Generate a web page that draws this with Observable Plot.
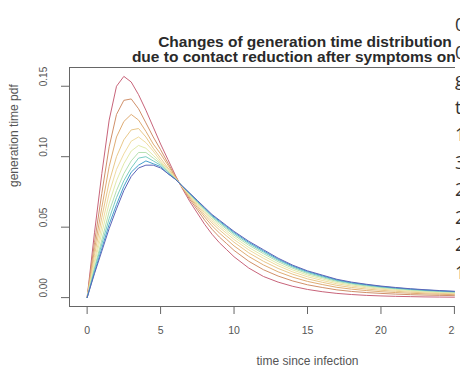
<!DOCTYPE html>
<html><head><meta charset="utf-8">
<script src="https://cdn.jsdelivr.net/npm/d3@7"></script>
<script src="https://cdn.jsdelivr.net/npm/@observablehq/plot@0.6"></script>
<style>
html,body{margin:0;padding:0;width:460px;height:375px;overflow:hidden;background:#fff;}
#wrap{position:relative;width:460px;height:375px;overflow:hidden;}
#chart{position:absolute;left:0;top:0;width:600px;height:375px;}
#chart svg{max-width:none !important;width:600px !important;height:375px !important;}
#title{position:absolute;left:0;width:610px;top:35px;text-align:center;font:bold 15.5px "Liberation Sans",Arial,sans-serif;color:#2a2a2a;line-height:14.5px;white-space:nowrap;}
#side{position:absolute;left:455px;top:0;width:40px;height:375px;padding-top:11px;box-sizing:border-box;background:#fff;font:18px "Open Sans",sans-serif;color:#333;line-height:27.5px;}
</style>
</head><body>
<div id="wrap">
<div id="chart"></div>
<div id="title">Changes of generation time distribution<br>due to contact reduction after symptoms onset</div>
<div id="side"></div>
</div>
<script>
const times = [0,0.5,1,1.5,2,2.5,3,3.5,4,4.5,5,5.5,6,6.5,7,7.5,8,8.5,9,9.5,10,11,12,13,14,15,16,17,18,19,20,21,22,23,24,25,26,27,28,29,30];
const s1 = [0,.046,.088,.126,.150,.157,.153,.144,.133,.121,.109,.098,.087,.077,.068,.060,.052,.045,.039,.034,.029,.021,.015,.011,.008,.0058,.0042,.003,.0022,.0016,.0012,.0009,.0007,.0005,.0004,.0003,.0002,.00015,.0001,.0001,.0001];
const s2 = [0,.039,.074,.107,.130,.140,.141,.134,.124,.114,.105,.0955,.0862,.0775,.0695,.0623,.055,.0485,.043,.0383,.0335,.0258,.0198,.0153,.0118,.0091,.0072,.0055,.0044,.0036,.003,.0025,.0021,.0018,.0016,.0014,.0012,.0010,.0009,.0008,.0007];
const s3 = [0,.034,.064,.093,.114,.125,.130,.126,.118,.109,.102,.094,.0857,.0779,.0706,.0639,.0572,.051,.0459,.0413,.0367,.0292,.0232,.0183,.0145,.0115,.0093,.0073,.006,.005,.0042,.0036,.0031,.0027,.0024,.0021,.0018,.0016,.0014,.0013,.0012];
const s4 = [0,.030,.057,.082,.100,.112,.119,.120,.114,.106,.099,.092,.0853,.0781,.0714,.0651,.0588,.053,.0481,.0437,.0393,.0318,.0258,.0207,.0166,.0133,.0109,.0087,.0072,.0061,.0052,.0045,.0039,.0034,.003,.0027,.0024,.0021,.0019,.0017,.0015];
const s5 = [0,.026,.051,.074,.091,.102,.111,.114,.110,.104,.097,.091,.085,.0784,.0721,.0661,.0602,.0545,.0499,.0456,.0412,.0339,.0279,.0226,.0182,.0148,.0122,.0098,.0082,.007,.006,.0052,.0045,.004,.0035,.0032,.0028,.0025,.0022,.002,.0018];
const s6 = [0,.024,.046,.067,.083,.095,.104,.108,.106,.101,.096,.090,.0847,.0785,.0726,.0669,.0612,.0558,.0513,.0471,.0429,.0356,.0296,.0241,.0196,.016,.0133,.0107,.009,.0077,.0066,.0058,.005,.0044,.0039,.0035,.0031,.0028,.0025,.0022,.002];
const s7 = [0,.021,.041,.061,.076,.088,.097,.103,.103,.099,.095,.0895,.0845,.0787,.0731,.0677,.0622,.0569,.0526,.0485,.0443,.0372,.0312,.0255,.0208,.017,.0142,.0115,.0097,.0083,.0072,.0063,.0055,.0048,.0043,.0039,.0034,.0031,.0027,.0025,.0022];
const s8 = [0,.020,.038,.056,.071,.083,.092,.099,.100,.097,.094,.089,.0843,.0788,.0735,.0682,.0629,.0577,.0536,.0495,.0454,.0383,.0323,.0265,.0217,.0178,.0149,.0121,.0102,.0088,.0076,.0066,.0058,.0051,.0046,.0041,.0036,.0033,.0029,.0026,.0024];
const s9 = [0,.018,.035,.052,.066,.079,.089,.094,.097,.095,.093,.088,.0841,.0789,.0738,.0686,.0635,.0584,.0544,.0503,.0463,.0392,.0332,.0273,.0224,.0185,.0155,.0126,.0106,.0092,.0079,.0069,.0061,.0054,.0048,.0043,.0038,.0035,.0031,.0028,.0025];
const s10 = [0,.017,.033,.049,.063,.076,.086,.092,.094,.094,.092,.088,.084,.079,.074,.069,.064,.059,.055,.051,.047,.040,.034,.028,.023,.019,.016,.013,.011,.0095,.0082,.0072,.0063,.0056,.005,.0045,.004,.0036,.0032,.0029,.0026];
const seriesNames = ["s1","s2","s3","s4","s5","s6","s7","s8","s9","s10"];
const seriesValues = [s1,s2,s3,s4,s5,s6,s7,s8,s9,s10];
const colors = ["#c8647a","#d0906a","#dfac74","#e9c88a","#f0dca0","#e2eaaa","#b5e0b0","#78cdc2","#45a0cc","#5a64b8"];
const xTicks = [0,5,10,15,20,25,30];
const yTicks = [0,0.05,0.10,0.15];
const sideText = ["0","0","g","t","1","3","2","2","2","1"];

const rows = [];
seriesValues.forEach((vals, i) => vals.forEach((v, j) => rows.push({t: times[j], v, s: seriesNames[i]})));

const plot = Plot.plot({
  width: 600, height: 375,
  marginLeft: 69, marginRight: 55, marginTop: 67, marginBottom: 69,
  x: {domain: [-1.2, 31.2]},
  y: {domain: [-0.0063, 0.1633]},
  color: {domain: seriesNames, range: colors},
  style: {fontFamily: "Liberation Sans, Arial, sans-serif", background: "#fff"},
  marks: [
    Plot.line(rows, {x: "t", y: "v", z: "s", stroke: "s", strokeWidth: 1}),
    Plot.frame({stroke: "#666"}),
    Plot.axisX({ticks: xTicks, tickSize: 8, tickPadding: 12, fontSize: 10.5, stroke: "#666", fill: "#555", label: null}),
    Plot.axisY({ticks: yTicks, tickSize: 8, tickFormat: () => "", stroke: "#666", label: null}),
    Plot.text(yTicks, {y: d => d, text: d => d3.format(".2f")(d), frameAnchor: "left", dx: -26, rotate: -90, fontSize: 10, fill: "#555"}),
    Plot.text(["generation time pdf"], {frameAnchor: "left", dx: -55, rotate: -90, fontSize: 12, fill: "#555"}),
    Plot.text(["time since infection"], {frameAnchor: "bottom", dy: 58, fontSize: 12, fill: "#555"})
  ]
});
document.getElementById("chart").appendChild(plot);
document.getElementById("side").innerHTML = sideText.map(c => `<div>${c}</div>`).join("");
</script>
</body></html>
